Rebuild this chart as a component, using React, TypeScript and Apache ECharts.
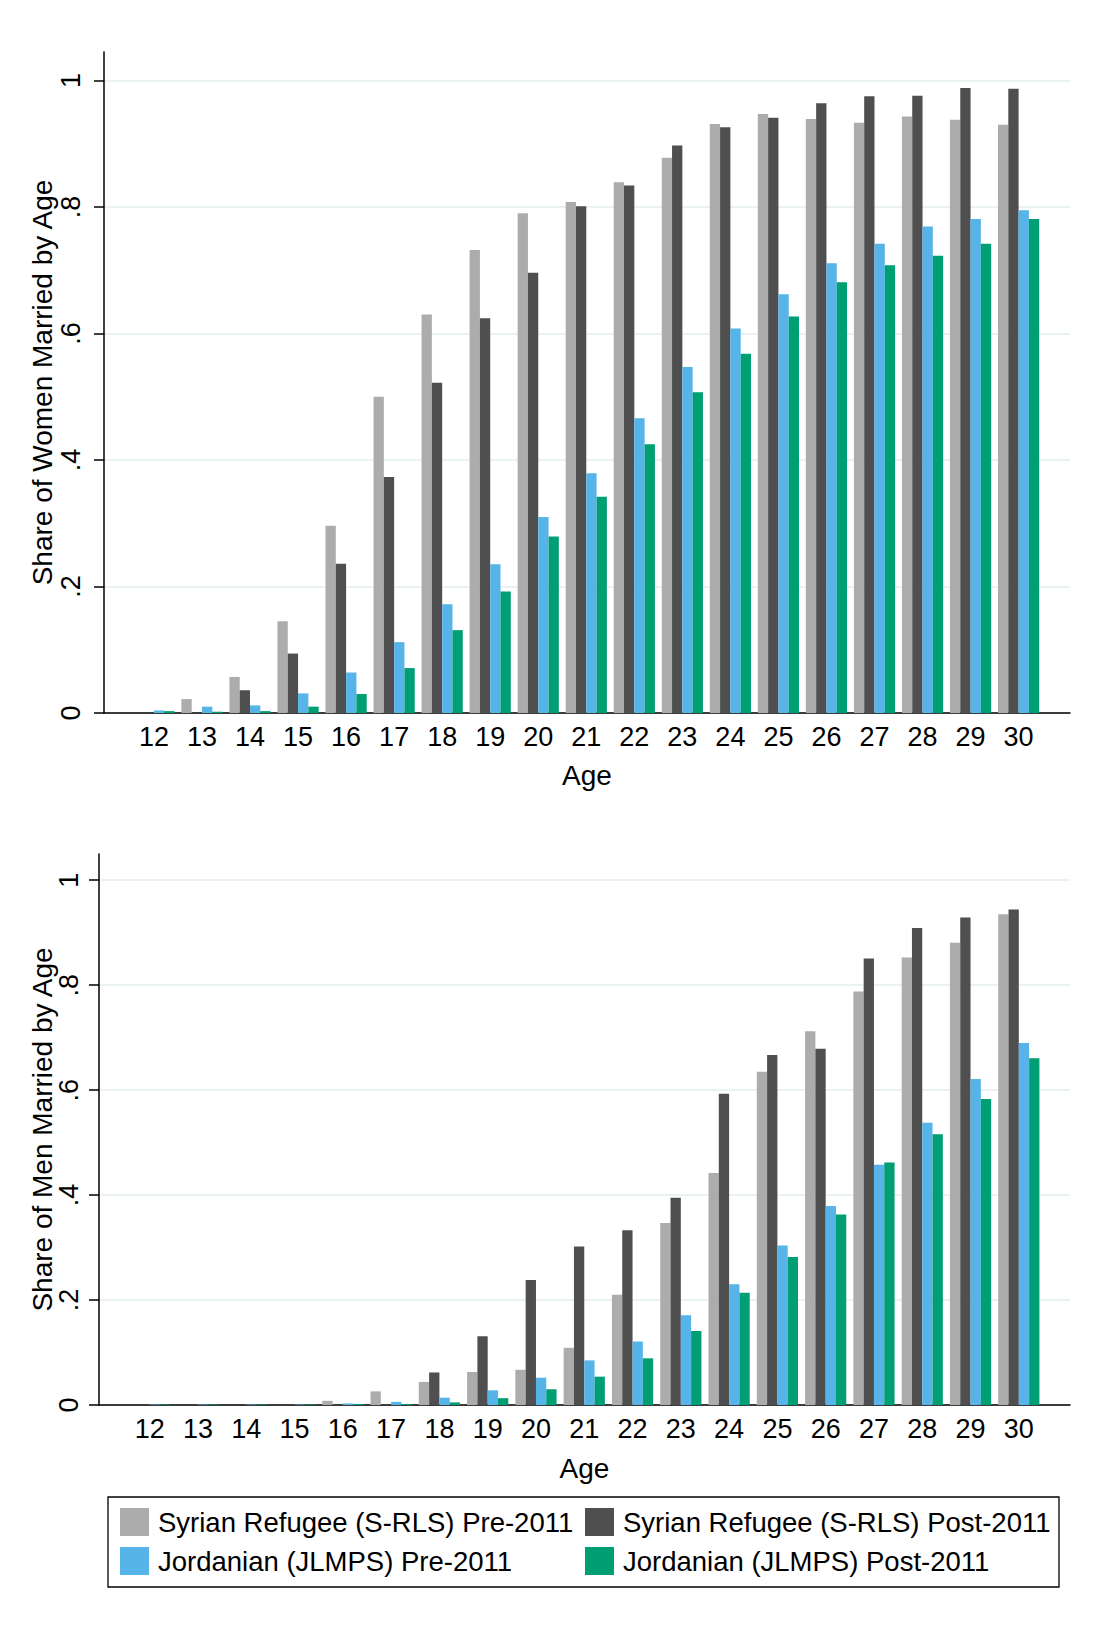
import React, { useEffect, useRef } from 'react';
import * as echarts from 'echarts';

const ages = [12, 13, 14, 15, 16, 17, 18, 19, 20, 21, 22, 23, 24, 25, 26, 27, 28, 29, 30];

const seriesNames = [
  'Syrian Refugee (S-RLS) Pre-2011',
  'Syrian Refugee (S-RLS) Post-2011',
  'Jordanian (JLMPS) Pre-2011',
  'Jordanian (JLMPS) Post-2011',
];
const seriesColors = ['#acacac', '#4f4f4f', '#56b4e9', '#009e73'];

// Women
const womenSyrPre = [0, 0.022, 0.057, 0.145, 0.296, 0.5, 0.63, 0.732, 0.79, 0.808, 0.839, 0.878, 0.931, 0.947, 0.939, 0.933, 0.943, 0.938, 0.930];
const womenSyrPost = [0, 0, 0.036, 0.094, 0.236, 0.373, 0.522, 0.624, 0.696, 0.801, 0.834, 0.897, 0.926, 0.941, 0.964, 0.975, 0.976, 0.988, 0.987];
const womenJorPre = [0.004, 0.01, 0.012, 0.031, 0.064, 0.112, 0.172, 0.235, 0.31, 0.379, 0.466, 0.547, 0.608, 0.662, 0.711, 0.742, 0.769, 0.781, 0.795];
const womenJorPost = [0.003, 0.002, 0.003, 0.01, 0.03, 0.071, 0.131, 0.192, 0.279, 0.342, 0.425, 0.507, 0.568, 0.627, 0.681, 0.708, 0.723, 0.742, 0.781];

// Men
const menSyrPre = [0, 0, 0, 0, 0.008, 0.026, 0.044, 0.063, 0.067, 0.109, 0.21, 0.347, 0.442, 0.635, 0.712, 0.788, 0.853, 0.881, 0.935];
const menSyrPost = [0, 0, 0, 0, 0, 0, 0.062, 0.131, 0.238, 0.302, 0.333, 0.395, 0.593, 0.667, 0.679, 0.851, 0.909, 0.929, 0.944];
const menJorPre = [0.001, 0.001, 0.001, 0.001, 0.003, 0.006, 0.014, 0.028, 0.052, 0.085, 0.121, 0.171, 0.23, 0.304, 0.379, 0.458, 0.538, 0.621, 0.69];
const menJorPost = [0.001, 0.001, 0.001, 0.001, 0.002, 0.002, 0.005, 0.013, 0.03, 0.054, 0.089, 0.141, 0.214, 0.282, 0.363, 0.462, 0.516, 0.583, 0.661];

const yTickValues = [0, 0.2, 0.4, 0.6, 0.8, 1];
const yTickLabels = ['0', '.2', '.4', '.6', '.8', '1'];

const FONT = "'Liberation Sans', Arial, Helvetica, sans-serif";
const GRID_COLOR = '#e4eeee';

function yFormatter(v: number): string {
  for (let i = 0; i < yTickValues.length; i++) {
    if (Math.abs(v - yTickValues[i]) < 1e-6) return yTickLabels[i];
  }
  return '';
}

function xFormatter(v: number): string {
  const r = Math.round(v);
  return ages.indexOf(r) >= 0 && Math.abs(v - r) < 1e-6 ? String(r) : '';
}

function makeXAxis(gridIndex: number, min: number, max: number, nameGap: number) {
  return {
    type: 'value',
    gridIndex,
    min,
    max,
    name: 'Age',
    nameLocation: 'middle',
    nameGap,
    nameMoveOverlap: false,
    nameTextStyle: { fontSize: 28, color: '#000', fontFamily: FONT },
    axisLine: { show: true, onZero: false, lineStyle: { color: '#000', width: 1.5 } },
    axisTick: { show: false },
    splitLine: { show: false },
    axisLabel: {
      customValues: ages,
      formatter: xFormatter,
      fontSize: 27,
      color: '#000',
      fontFamily: FONT,
      margin: 10,
    },
  };
}

function makeYAxis(gridIndex: number, max: number, name: string, nameGap: number, labelMargin: number) {
  return {
    type: 'value',
    gridIndex,
    min: 0,
    max,
    interval: 0.2,
    name,
    nameLocation: 'middle',
    nameRotate: 90,
    nameGap,
    nameMoveOverlap: false,
    nameTextStyle: { fontSize: 28, color: '#000', fontFamily: FONT },
    axisLine: { show: true, lineStyle: { color: '#000', width: 1.5 } },
    axisTick: {
      show: true,
      length: 10,
      customValues: yTickValues,
      lineStyle: { color: '#000', width: 1.5 },
    },
    splitLine: { show: true, lineStyle: { color: GRID_COLOR, width: 1.5 } },
    axisLabel: {
      customValues: yTickValues,
      formatter: yFormatter,
      rotate: 90,
      fontSize: 27,
      color: '#000',
      fontFamily: FONT,
      margin: labelMargin,
    },
  };
}

function makeSeries(values: number[][], axisIndex: number) {
  return values.map((vals, k) => ({
    type: 'bar',
    name: seriesNames[k],
    xAxisIndex: axisIndex,
    yAxisIndex: axisIndex,
    barWidth: 10.3,
    barGap: '0%',
    itemStyle: { color: seriesColors[k] },
    data: ages.map((a, i) => [a, vals[i]]),
  }));
}

function makeLegend(names: string[], left: number) {
  return {
    show: true,
    selectedMode: false,
    data: names,
    left,
    top: 1508,
    orient: 'vertical',
    padding: 0,
    itemWidth: 29,
    itemHeight: 28,
    itemGap: 11,
    icon: 'rect',
    textStyle: {
      fontSize: 27.5,
      color: '#000',
      fontFamily: FONT,
      padding: [0, 0, 0, 4],
    },
  };
}

export default function App() {
  const ref = useRef<HTMLDivElement>(null);
  useEffect(() => {
    if (!ref.current) return;
    const chart = echarts.init(ref.current, null, { renderer: 'svg' });
    const option: any = {
      animation: false,
      backgroundColor: '#fff',
      textStyle: { fontFamily: FONT },
      grid: [
        { left: 104, right: 39, top: 52, height: 661 },
        { left: 99, right: 39, top: 854, height: 551 },
      ],
      xAxis: [makeXAxis(0, 10.96, 31.07, 48), makeXAxis(1, 10.95, 31.06, 49)],
      yAxis: [
        makeYAxis(0, 1.045, 'Share of Women Married by Age', 48, 20),
        makeYAxis(1, 1.05, 'Share of Men Married by Age', 43, 17),
      ],
      legend: [
        makeLegend([seriesNames[0], seriesNames[2]], 120),
        makeLegend([seriesNames[1], seriesNames[3]], 585),
      ],
      graphic: [
        {
          type: 'rect',
          z: -1,
          shape: { x: 108, y: 1497, width: 951, height: 90 },
          style: { fill: '#fff', stroke: '#000', lineWidth: 1.3 },
        },
      ],
      series: [
        ...makeSeries([womenSyrPre, womenSyrPost, womenJorPre, womenJorPost], 0),
        ...makeSeries([menSyrPre, menSyrPost, menJorPre, menJorPost], 1),
      ],
    };
    chart.setOption(option);
    return () => chart.dispose();
  }, []);
  return (
    <div
      ref={ref}
      style={{ position: 'absolute', left: 0, top: 0, width: 1109, height: 1626, background: '#fff' }}
    />
  );
}
